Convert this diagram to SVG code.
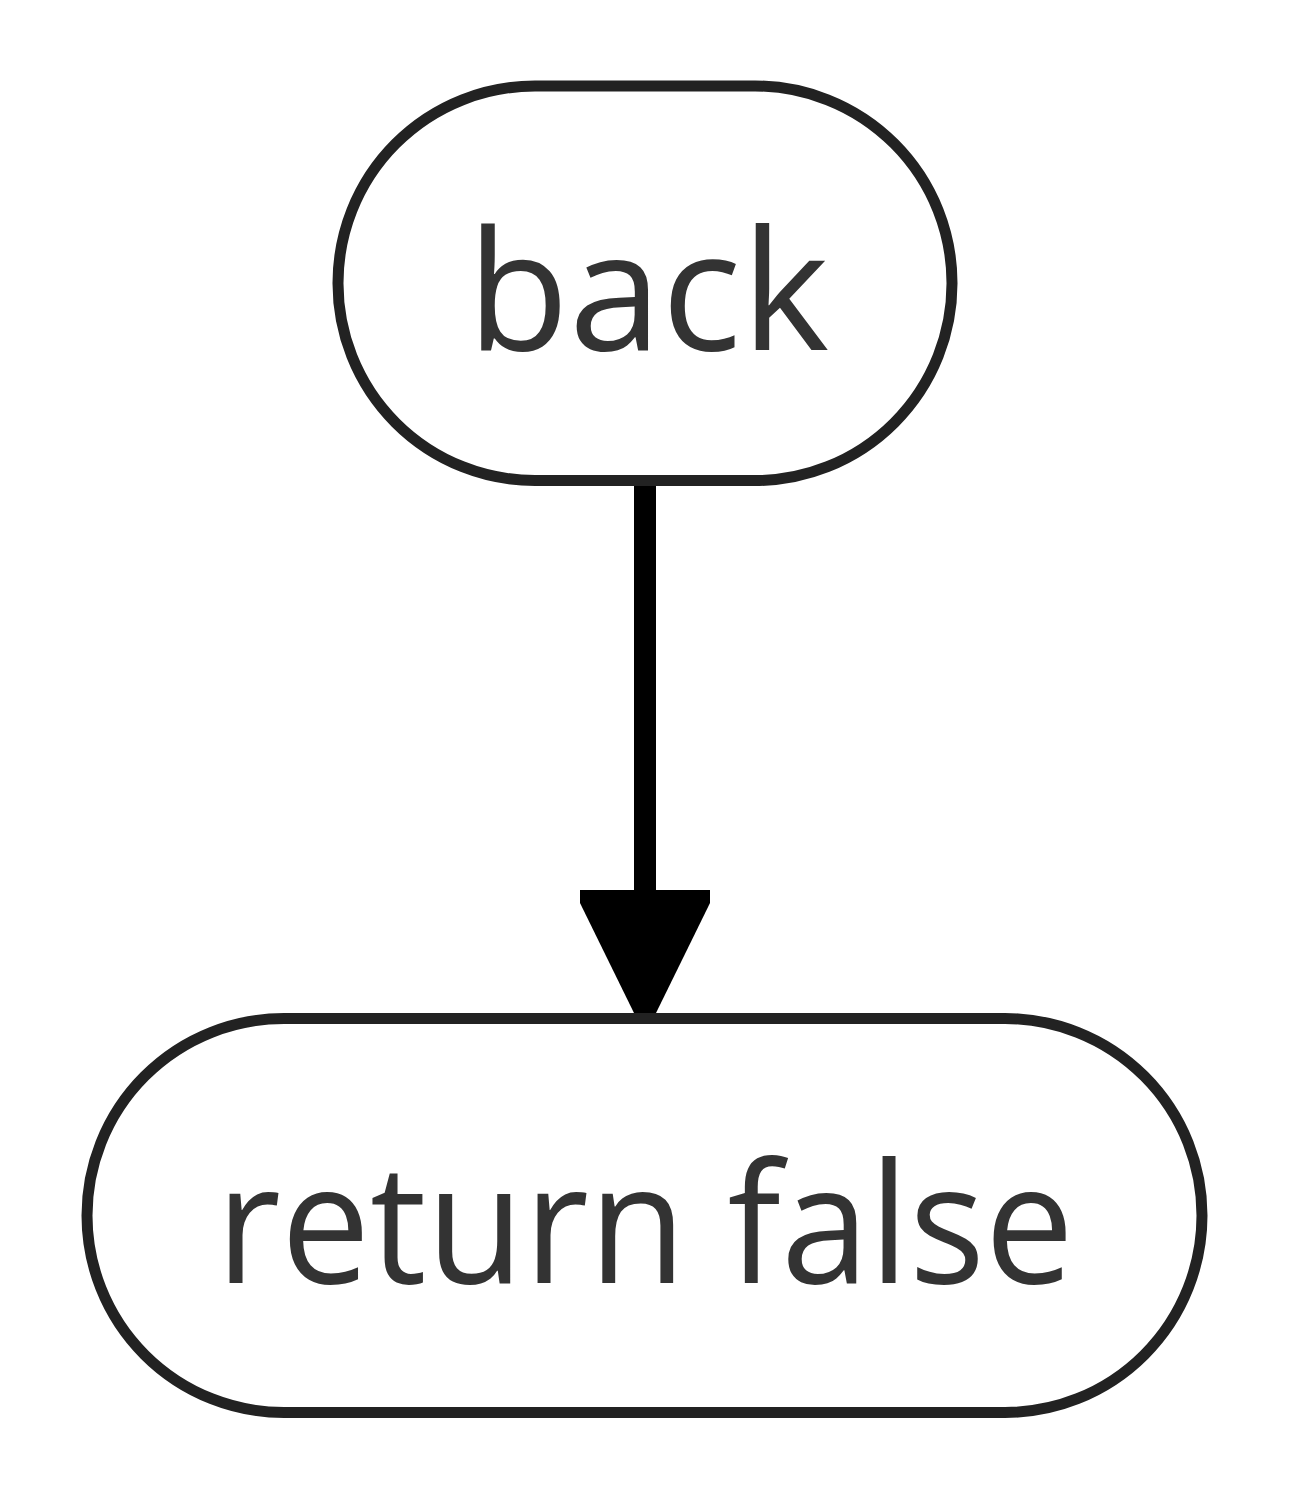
<svg xmlns="http://www.w3.org/2000/svg" width="1290" height="1500" viewBox="0 0 1290 1500">
<style>
.node rect{fill:#fff;stroke:#222;stroke-width:11}
.node text{font-family:"Open Sans","Noto Sans",sans-serif;font-size:166px;fill:#333;text-anchor:middle}
</style>
<rect width="1290" height="1500" fill="#fff"/>
<g id="connectors">
<line x1="645" y1="484" x2="645" y2="895" stroke="#000" stroke-width="22"/>
<polygon points="580,890 710,890 710,903 656,1013 634,1013 580,903" fill="#000"/>
</g>
<g id="back" class="node">
<rect x="338" y="86" width="614" height="394.5" rx="197" ry="197"/>
<text x="648" y="350" textLength="362" lengthAdjust="spacingAndGlyphs">back</text>
</g>
<g id="return_false" class="node">
<rect x="87" y="1018.5" width="1115" height="394" rx="197" ry="197"/>
<text x="645" y="1283" textLength="858" lengthAdjust="spacingAndGlyphs">return false</text>
</g>
</svg>
